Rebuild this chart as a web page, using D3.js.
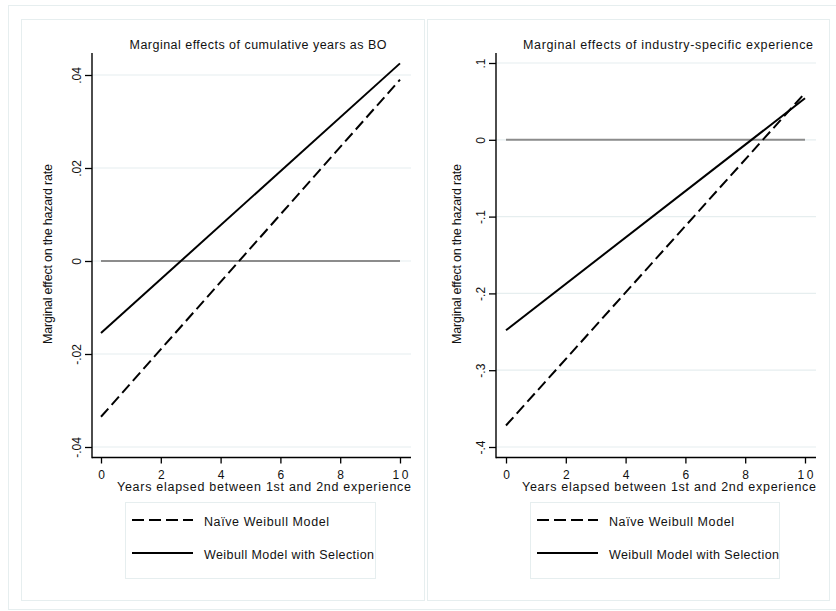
<!DOCTYPE html>
<html>
<head>
<meta charset="utf-8">
<script src="https://cdn.jsdelivr.net/npm/d3@7"></script>
<style>
  body { margin: 0; background: #fff; }
  svg { display: block; font-family: "Liberation Sans", Arial, sans-serif; }
  .tick text { font-size: 12px; fill: #111; }
</style>
</head>
<body>
<svg id="chart" width="836" height="611"></svg>
<script>
// data
const years = [0, 10];
const xTicks = [0, 2, 4, 6, 8, 10];
const zeroRef = [0, 0];

const boNaive = [-0.0335, 0.039];
const boSelection = [-0.0155, 0.0425];
const boTicks = [-0.04, -0.02, 0, 0.02, 0.04];

const indNaive = [-0.372, 0.061];
const indSelection = [-0.248, 0.054];
const indTicks = [-0.4, -0.3, -0.2, -0.1, 0, 0.1];

const seriesNames = ["Naïve Weibull Model", "Weibull Model with Selection"];
const titles = ["Marginal effects of cumulative years as BO", "Marginal effects of industry-specific experience"];
const yTitle = "Marginal effect on the hazard rate";
const xTitle = "Years elapsed between 1st and 2nd experience";

const svg = d3.select("#chart");
const gridColor = "#e6eeef";

// outer frame
svg.append("rect")
    .attr("x", 8.5).attr("y", 5.5).attr("width", 836).attr("height", 604)
    .attr("fill", "none").attr("stroke", gridColor);

// Stata style tick labels: .04, -.02, 0
const fmt = v => v === 0 ? "0" : String(+v.toFixed(3)).replace(/^(-?)0\./, "$1.");

const panels = [
    { title: titles[0], titleW: 257, naive: boNaive, sel: boSelection, ticks: boTicks, dom: [-0.04, 0.04],
      box: [21, 424], ax: 92, axEnd: 411, x0: 101, x1: 400, yLo: 447, yHi: 75,
      titleX: 258, yLabX: 52, legend: [125, 375] },
    { title: titles[1], titleW: 290, naive: indNaive, sel: indSelection, ticks: indTicks, dom: [-0.4, 0.1],
      box: [427, 829], ax: 496, axEnd: 816, x0: 506, x1: 805, yLo: 447, yHi: 63,
      titleX: 668, yLabX: 461, legend: [530, 779] }
];

panels.forEach(p => drawPanel(p));

function drawPanel(p) {
    const g = svg.append("g");
    const top = 53, base = 457.5;

    g.append("rect")
        .attr("x", p.box[0] + 0.5).attr("y", 19.5)
        .attr("width", p.box[1] - p.box[0]).attr("height", 581)
        .attr("fill", "none").attr("stroke", gridColor);

    const x = d3.scaleLinear().domain([0, 10]).range([p.x0, p.x1]);
    const y = d3.scaleLinear().domain(p.dom).range([p.yLo, p.yHi]);

    // gridlines
    g.selectAll(".grid").data(p.ticks).enter().append("line")
        .attr("x1", p.ax).attr("x2", p.axEnd)
        .attr("y1", d => y(d)).attr("y2", d => y(d))
        .attr("stroke", gridColor).attr("stroke-width", 1.2);

    // y axis
    const yAxis = g.append("g").attr("transform", `translate(${p.ax},0)`)
        .call(d3.axisLeft(y).tickValues(p.ticks).tickFormat(fmt).tickSize(7).tickSizeOuter(0));
    yAxis.select(".domain").remove();
    yAxis.selectAll(".tick line").attr("stroke", "#000").attr("stroke-width", 1.3);
    yAxis.selectAll(".tick text")
        .attr("transform", "rotate(-90)")
        .attr("x", 0).attr("y", -11).attr("dy", 0)
        .attr("text-anchor", "middle");

    // x axis
    const xAxis = g.append("g").attr("transform", `translate(0,${base})`)
        .call(d3.axisBottom(x).tickValues(xTicks).tickSize(6).tickSizeOuter(0));
    xAxis.select(".domain").remove();
    xAxis.selectAll(".tick line").attr("stroke", "#000").attr("stroke-width", 1.3);
    xAxis.selectAll(".tick text").attr("y", 21).attr("dy", 0)
        .attr("letter-spacing", d => d >= 10 ? 2.5 : 0).attr("dx", d => d >= 10 ? 1.2 : 0);

    g.append("line").attr("x1", p.ax).attr("x2", p.ax).attr("y1", top).attr("y2", base + 0.7)
        .attr("stroke", "#000").attr("stroke-width", 1.4);
    g.append("line").attr("x1", p.ax).attr("x2", p.axEnd).attr("y1", base).attr("y2", base)
        .attr("stroke", "#000").attr("stroke-width", 1.4);

    // lines
    const line = d3.line().x((d, i) => x(years[i])).y(d => y(d));
    g.append("path").datum(zeroRef).attr("d", line)
        .attr("fill", "none").attr("stroke", "#8c8c8c").attr("stroke-width", 2);
    g.append("path").datum(p.naive).attr("d", line)
        .attr("fill", "none").attr("stroke", "#000").attr("stroke-width", 2)
        .attr("stroke-dasharray", "11,5");
    g.append("path").datum(p.sel).attr("d", line)
        .attr("fill", "none").attr("stroke", "#000").attr("stroke-width", 2);

    // titles
    g.append("text").attr("x", p.titleX).attr("y", 49).attr("text-anchor", "middle")
        .attr("font-size", 12.5).attr("fill", "#111")
        .attr("textLength", p.titleW).attr("lengthAdjust", "spacing").text(p.title);
    g.append("text").attr("transform", `translate(${p.yLabX},254) rotate(-90)`)
        .attr("text-anchor", "middle").attr("font-size", 12.5).attr("fill", "#111")
        .attr("textLength", 180).attr("lengthAdjust", "spacing").text(yTitle);
    g.append("text").attr("x", p.axEnd - 294).attr("y", 491)
        .attr("font-size", 12.5).attr("fill", "#111")
        .attr("textLength", 294).attr("lengthAdjust", "spacing").text(xTitle);

    // legend
    const lx = p.legend[0];
    g.append("rect").attr("x", lx + 0.5).attr("y", 502.5)
        .attr("width", p.legend[1] - lx).attr("height", 76)
        .attr("fill", "none").attr("stroke", gridColor);
    const rows = [{ name: seriesNames[0], w: 125, dash: "12,5", y: 520 },
                  { name: seriesNames[1], w: 170, dash: null, y: 553 }];
    rows.forEach(r => {
        g.append("line").attr("x1", lx + 7).attr("x2", lx + 68).attr("y1", r.y).attr("y2", r.y)
            .attr("stroke", "#000").attr("stroke-width", 2)
            .attr("stroke-dasharray", r.dash);
        g.append("text").attr("x", lx + 79).attr("y", r.y + 5.5)
            .attr("font-size", 12.5).attr("fill", "#111")
            .attr("textLength", r.w).attr("lengthAdjust", "spacing").text(r.name);
    });
}
</script>
</body>
</html>
